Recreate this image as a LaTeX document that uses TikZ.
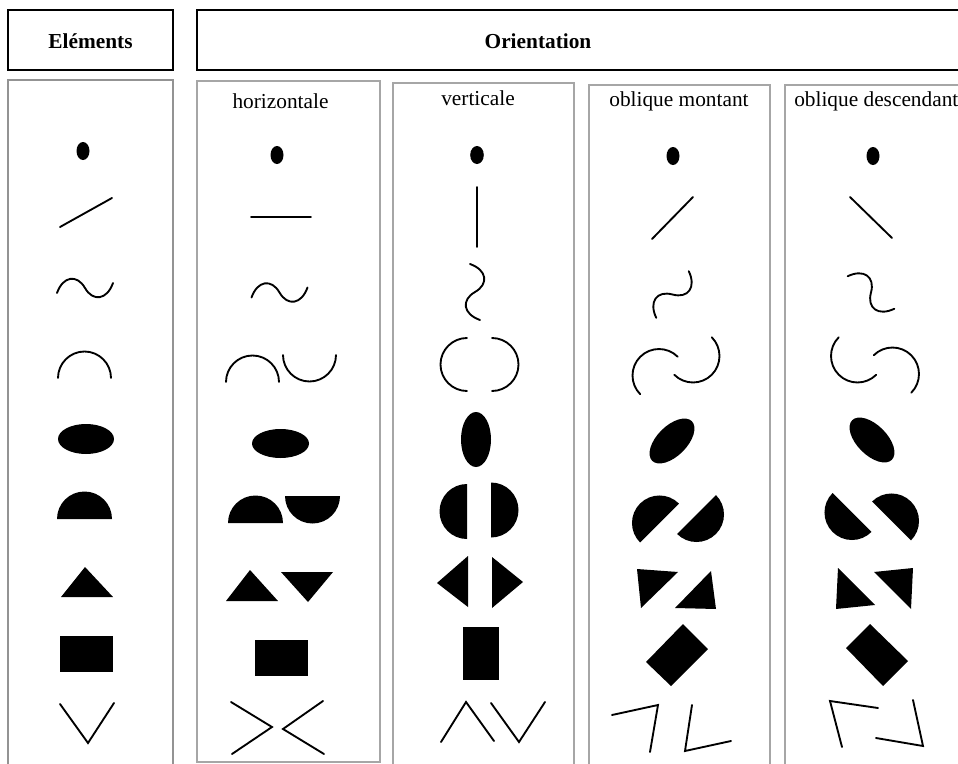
\documentclass[tikz,border=0pt]{standalone}
\usepackage{fontspec}
\setmainfont{Liberation Serif}
\tikzset{
  lbl/.style={anchor=base,inner sep=0pt,font=\fontsize{16}{19}\selectfont},
  hdr/.style={anchor=base,inner sep=0pt,font=\fontsize{16}{19}\selectfont\bfseries},
  hbox/.style={draw=black,line width=1.5pt},
  cbox/.style={draw=gray!70,line width=1.1pt},
  ln/.style={line width=1.4pt,line cap=round,line join=miter},
  pics/wavy/.style={code={\draw[ln] (-28,5) .. controls (-22,-12) and (-8,-14) .. (0,0) .. controls (8,14) and (22,12) .. (28,-5);}},
  pics/arcup/.style={code={\draw[ln] (-26.5,0) .. controls (-26.5,-14.6) and (-14.6,-26.5) .. (0,-26.5) .. controls (14.6,-26.5) and (26.5,-14.6) .. (26.5,0);}},
  pics/halfup/.style={code={\fill (-27.5,0) .. controls (-27.5,-15.2) and (-15.2,-27.5) .. (0,-27.5) .. controls (15.2,-27.5) and (27.5,-15.2) .. (27.5,0) -- cycle;}},
}
\begin{document}
\begin{tikzpicture}[x=0.75pt,y=-0.75pt]
\fill[white] (0,0) rectangle (958,764);
\useasboundingbox (0,0) rectangle (958,764);

% header boxes
\draw[hbox] (8,10) rectangle (173,70);
\draw[hbox] (962,10) -- (197,10) -- (197,70) -- (962,70);
\node[hdr] (telem) at (90.5,48) {Eléments};
\node[hdr] (torient) at (538,48) {Orientation};

% column boxes
\draw[cbox,draw=gray!85] (8,770) -- (8,80) -- (173,80) -- (173,770);
\draw[cbox] (197,81) rectangle (380,762);
\draw[cbox] (393,770) -- (393,83) -- (574,83) -- (574,770);
\draw[cbox] (589,770) -- (589,85) -- (770,85) -- (770,770);
\draw[cbox] (962,85) -- (785,85) -- (785,770);

\node[lbl] (thor) at (280.5,108) {horizontale};
\node[lbl] (tver) at (478,105) {verticale};
\node[lbl] (tmon) at (679,106) {oblique montant};
\node[lbl,anchor=base west] (tdes) at (794,106) {oblique descendant};

% ---------- Elements ----------
\fill (83,151) ellipse [x radius=6.5,y radius=9];
\draw[ln] (60,227) -- (112,198);
\pic at (85,288) {wavy};
\pic at (84.5,378) {arcup};
\fill (86,439) ellipse [x radius=28,y radius=15];
\pic at (84.5,519) {halfup};
\fill (85,567) -- (61,597) -- (113,597) -- cycle;
\fill (60,636) rectangle (113,672);
\draw[ln] (60,704) -- (88,743) -- (114,703);

% ---------- horizontale ----------
\fill (277,155) ellipse [x radius=6.5,y radius=9];
\draw[ln] (251,217) -- (311,217);
\pic at (279.5,292.5) {wavy};
\pic at (252.5,382) {arcup};
\pic[rotate=180] at (309.5,355) {arcup};
\fill (280.5,443.5) ellipse [x radius=28.5,y radius=14.5];
\pic at (255.5,523) {halfup};
\pic[rotate=180] at (312.5,496) {halfup};
\fill (250,570) -- (226,601) -- (278,601) -- cycle;
\fill (281,572) -- (333,572) -- (308,602) -- cycle;
\fill (255,640) rectangle (308,676);
\draw[ln] (231,702) -- (272,727) -- (232,754);
\draw[ln] (323,701) -- (283,729) -- (324,754);

% ---------- verticale ----------
\fill (477,155) ellipse [x radius=6.8,y radius=9];
\draw[ln] (477,187) -- (477,247);
\pic[rotate=90] at (475,292) {wavy};
\pic[rotate=90] at (467,364.5) {arcup};
\pic[rotate=-90] at (492,364.5) {arcup};
\fill (476,439.5) ellipse [x radius=15,y radius=27.5];
\pic[rotate=90] at (467,511.5) {halfup};
\pic[rotate=-90] at (491,510) {halfup};
\fill (468,556) -- (468,607) -- (437,583) -- cycle;
\fill (492,557) -- (492,608) -- (523,582) -- cycle;
\fill (463,627) rectangle (499,680);
\draw[ln] (441,742) -- (466,702) -- (494,741);
\draw[ln] (491,703) -- (519,742) -- (545,702);

% ---------- oblique montant ----------
\fill (673,156) ellipse [x radius=6.5,y radius=9];
\draw[ln] (652,239) -- (693,197);
\pic[rotate=45] at (672.5,294.5) {wavy};
\pic[rotate=45] at (659,375.5) {arcup};
\pic[rotate=225] at (693,356) {arcup};
\fill[rotate around={45:(672,441)}] (672,441) ellipse [x radius=28,y radius=15];
\pic[rotate=45] at (659.5,523) {halfup};
\pic[rotate=225] at (696.5,514.5) {halfup};
\fill (637,569) -- (678,572) -- (641,608) -- cycle;
\fill (711,571) -- (716,609) -- (675,608) -- cycle;
\fill (683,624) -- (708,649) -- (671,686) -- (646,662) -- cycle;
\draw[ln] (612,715) -- (658,705) -- (650,752);
\draw[ln] (692,705) -- (685,751) -- (731,741);

% ---------- oblique descendant ----------
\fill (873,156) ellipse [x radius=6.5,y radius=9];
\draw[ln] (850,197) -- (892,238);
\pic[rotate=-45] at (871,292.5) {wavy};
\pic[rotate=135] at (857.5,356) {arcup};
\pic[rotate=-45] at (892.5,374) {arcup};
\fill[rotate around={-45:(872,440)}] (872,440) ellipse [x radius=28,y radius=15];
\pic[rotate=135] at (852,512.5) {halfup};
\pic[rotate=-45] at (891.5,521) {halfup};
\fill (838,568) -- (875,605) -- (836,609) -- cycle;
\fill (874,572) -- (913,568) -- (911,609) -- cycle;
\fill (870,624) -- (908,661) -- (883,686) -- (846,648) -- cycle;
\draw[ln] (878,708) -- (830,701) -- (842,747);
\draw[ln] (913,700) -- (923,746) -- (876,738);
\end{tikzpicture}
\end{document}
